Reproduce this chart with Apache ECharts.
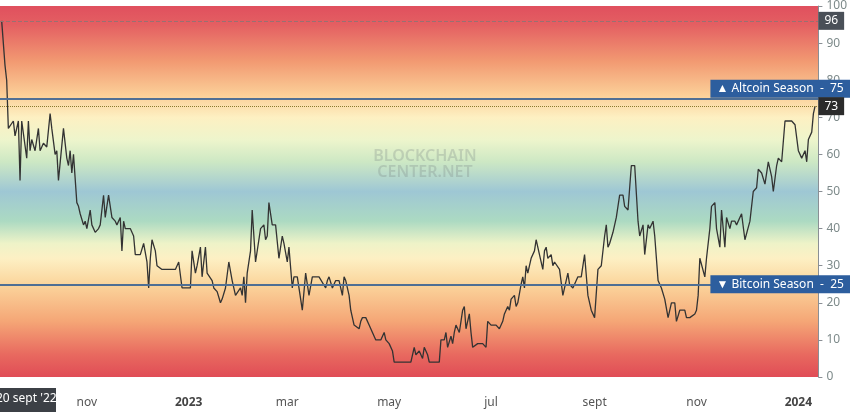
<!DOCTYPE html>
<html><head><meta charset="utf-8">
<script src="https://cdn.jsdelivr.net/npm/echarts@6/dist/echarts.min.js"></script>
<style>html,body{margin:0;padding:0;background:#fff}#c{width:850px;height:414px}</style>
</head><body><div id="c"></div>
<script>
const startDate = '2022-09-10';
const endDay = 490;
const days = [1,3,4,5,6,8,9,11,12,13,14,16,17,18,19,21,23,24,26,28,30,31,33,34,35,36,38,40,41,42,43,44,46,47,48,50,51,52,54,55,57,59,60,62,63,65,67,69,70,72,73,74,75,78,80,81,84,86,88,89,90,91,93,94,97,100,105,107,109,111,114,115,117,118,120,121,123,124,127,128,130,132,133,135,137,139,141,142,144,145,146,147,148,150,151,153,154,156,158,159,160,161,163,165,167,169,170,172,173,175,176,178,179,181,183,185,187,191,195,196,197,199,201,203,205,206,207,209,210,212,213,215,216,217,218,219,221,223,225,226,228,230,231,233,235,236,239,243,246,248,249,251,253,254,256,257,260,263,264,266,267,268,270,271,272,273,275,276,277,278,279,281,282,283,286,289,291,292,294,297,299,301,302,304,305,306,308,309,310,312,313,314,315,316,318,320,321,323,325,326,327,328,330,331,332,335,337,338,340,341,343,344,346,348,350,352,354,356,358,360,362,363,364,365,367,369,371,373,374,376,378,380,382,383,385,386,388,389,391,392,394,396,398,400,402,404,405,407,410,411,413,416,417,418,419,420,422,423,425,426,428,429,431,432,434,435,437,438,440,441,444,446,447,449,451,453,454,456,458,460,462,463,465,466,468,470,472,474,476,478,480,482,483,484,486,487,488];
const values = [96,84,80,67,67,69,65,69,53,69,69,59,69,61,64,61,67,61,63,62,71,67,60,61,53,53,67,59,57,61,55,60,47,46,44,41,42,40,45,41,39,40,41,49,43,49,43,42,41,43,34,42,40,40,38,33,33,36,31,24,32,37,34,30,29,29,29,31,24,24,24,34,28,30,35,27,35,28,26,24,23,20,21,24,31,26,22,22,24,22,27,20,28,34,45,31,31,40,41,37,38,47,41,41,32,38,36,31,35,24,27,27,24,18,28,22,27,27,24,26,27,24,26,26,22,27,26,22,18,14,14,13,15,16,16,16,14,12,10,10,10,12,10,9,7,4,4,4,4,8,6,7,5,8,6,4,4,4,10,10,12,8,11,9,12,14,12,15,18,19,13,17,12,8,9,9,8,15,14,14,13,15,17,19,18,21,22,19,20,25,27,24,30,28,32,34,37,33,29,34,35,32,33,30,31,29,22,22,28,25,24,24,27,27,33,22,18,16,29,30,38,41,35,36,39,43,49,49,46,45,57,57,42,38,41,33,41,40,42,38,26,24,21,16,20,20,15,18,18,16,16,17,18,22,32,32,27,32,40,46,47,40,35,45,35,43,40,42,42,41,44,37,37,42,50,51,56,55,52,58,54,50,57,59,58,69,69,69,68,61,59,61,58,64,66,71,73];
const yTicks = [0,10,20,30,40,50,60,70,80,90,100];
const monthNames = ['jan','feb','mar','apr','may','jun','jul','aug','sept','oct','nov','dec'];
const altLevel = 75, btcLevel = 25, current = 73, peak = 96;

const t0 = new Date(startDate + 'T00:00:00Z').getTime();
const DAY = 86400000;
const data = days.map((d,i)=>[t0 + d*DAY, values[i]]);

const G = echarts.graphic.LinearGradient;
const bg = new G(0,0,0,1,[
 {offset:0,color:'#e0505e'},{offset:0.05,color:'#e45f62'},{offset:0.15,color:'#f29a72'},
 {offset:0.24,color:'#fbcf98'},{offset:0.30,color:'#fdf0c2'},{offset:0.36,color:'#eef5cc'},
 {offset:0.42,color:'#cde8c4'},{offset:0.50,color:'#9ec7d4'},{offset:0.58,color:'#acdac2'},
 {offset:0.64,color:'#eef3c8'},{offset:0.68,color:'#fdf0c4'},{offset:0.75,color:'#fbd59c'},
 {offset:0.85,color:'#f5a676'},{offset:0.94,color:'#e8695f'},{offset:1,color:'#e04c56'}]);

const boxLabel = (txt,dy)=>({position:'end',distance:[-108,0],offset:[0,dy],formatter:txt,color:'#fff',backgroundColor:'#2d5e9e',
  padding:[3,8,3,6],fontSize:12,fontFamily:'Noto Sans'});

const chart = echarts.init(document.getElementById('c'));
chart.setOption({
 animation:false,
 grid:{left:0,right:31,top:-3,bottom:37,show:true,backgroundColor:bg,borderWidth:0},
 xAxis:{type:'time',min:t0,max:t0+endDay*DAY,minInterval:59*DAY,maxInterval:62*DAY,
   axisLine:{show:false},axisTick:{show:false},splitLine:{show:false},
   axisLabel:{color:'#555',fontSize:12,margin:20,fontFamily:'Noto Sans',
     formatter:function(v){const d=new Date(v);const m=d.getUTCMonth();
       return m===0?'{b|'+d.getUTCFullYear()+'}':monthNames[m];},
     rich:{b:{fontWeight:'bold',color:'#444',fontSize:12,fontFamily:'Noto Sans'}}}},
 yAxis:{type:'value',position:'right',min:0,max:100,interval:10,
   axisLine:{show:true,lineStyle:{color:'#8a8f95'}},axisTick:{show:true,length:4,lineStyle:{color:'#8a8f95'}},
   splitLine:{show:false},axisLabel:{color:'#7d8a8a',fontSize:12,margin:8,fontFamily:'Noto Sans'}},
 series:[{type:'line',data:data,showSymbol:false,lineStyle:{color:'#333',width:1.3},
   markLine:{symbol:'none',silent:true,data:[
     {yAxis:altLevel,lineStyle:{color:'#4f6f94',width:2,type:'solid'},
      label:boxLabel('▲ Altcoin Season  -  '+altLevel,-10)},
     {yAxis:btcLevel,lineStyle:{color:'#4f6f94',width:2,type:'solid'},
      label:boxLabel('▼ Bitcoin Season  -  '+btcLevel,0)},
     {yAxis:current,lineStyle:{color:'#8a7a30',width:1,type:'dotted'},
      label:{position:'end',distance:0,formatter:''+current,color:'#fff',backgroundColor:'#2b2b2b',padding:[3,6],fontSize:12,fontFamily:'Noto Sans'}},
     {yAxis:peak,lineStyle:{color:'#9a7070',width:1,type:'dashed'},
      label:{position:'end',distance:0,formatter:''+peak,color:'#fff',backgroundColor:'#4a5058',padding:[3,6],fontSize:12,fontFamily:'Noto Sans'}}
   ]}}],
 graphic:[
  {type:'text',left:'center',top:148,style:{text:'BLOCKCHAIN\nCENTER.NET',fill:'rgba(120,130,130,0.28)',font:'600 16px Noto Sans',textAlign:'center',lineHeight:16}},
  {type:'group',left:-8,top:388,children:[
   {type:'rect',shape:{x:0,y:0,width:64,height:24},style:{fill:'#3c4046'}},
   {type:'text',style:{x:4,y:5,text:"20 sept '22",fill:'#fff',font:'12px Noto Sans'}}]}
 ]
});
</script></body></html>
